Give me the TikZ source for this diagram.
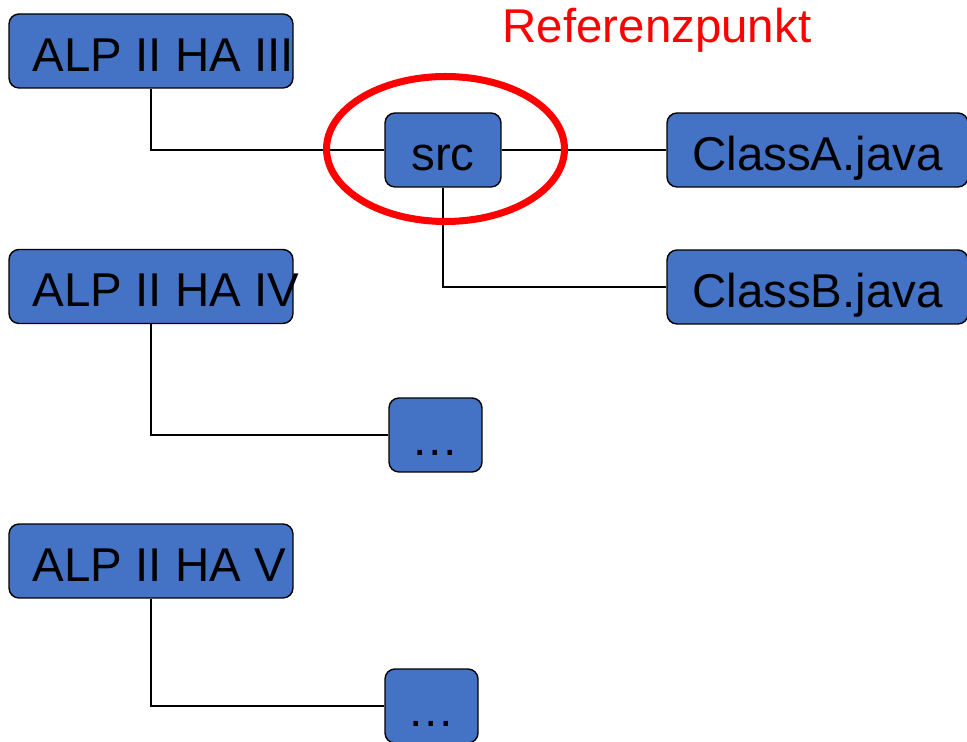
\documentclass[tikz,border=0pt]{standalone}
\usepackage{fontspec}
\setmainfont{Liberation Sans}
\definecolor{boxblue}{RGB}{68,114,196}
\definecolor{refred}{RGB}{255,0,0}

\begin{document}
\begin{tikzpicture}[x=0.02cm,y=-0.02cm]
	\tikzset{box/.style = {draw,line width=0.8pt,fill=boxblue,rounded corners=0.2cm,inner sep=0pt,text height=1.16cm,text depth=0.32cm,font=\fontsize{27}{31}\selectfont}}
	\tikzset{lbl/.style = {inner sep=0pt,font=\fontsize{27}{31}\selectfont}}
	\tikzset{link/.style = {draw,line width=0.8pt}}
	\useasboundingbox (0,0) rectangle (967,742);
	% folders
	\node[box,minimum width=5.68cm] (alp3) at (151,51) {};
	\node[box,minimum width=5.68cm] (alp4) at (151,286.5) {};
	\node[box,minimum width=5.68cm] (alp5) at (151,561) {};
	\node[lbl,anchor=base west] (alp3txt) at ([xshift=0.48cm,yshift=-1.16cm]alp3.north west) {ALP II HA III};
	\node[lbl,anchor=base west] (alp4txt) at ([xshift=0.48cm,yshift=-1.16cm]alp4.north west) {ALP II HA IV};
	\node[lbl,anchor=base west] (alp5txt) at ([xshift=0.48cm,yshift=-1.16cm]alp5.north west) {ALP II HA V};
	% contents
	\node[box,minimum width=2.32cm] (src) at (443,150) {src};
	\node[box,minimum width=6.02cm] (ca) at (817.5,150) {ClassA.java};
	\node[box,minimum width=6.02cm] (cb) at (817.5,287) {ClassB.java};
	\node[box,minimum width=1.86cm] (d1) at (435.5,435) {…};
	\node[box,minimum width=1.86cm] (d2) at (431.5,706) {…};
	\path[link] (alp3.south) |- (src.west);
	\path[link] (src.east) -- (ca.west);
	\path[link] (src.south) |- (cb.west);
	\path[link] (alp4.south) |- (d1.west);
	\path[link] (alp5.south) |- (d2.west);
	% reference point
	\draw[refred,line width=4pt] (445.5,149) ellipse [x radius=2.38cm,y radius=1.45cm];
	\node[lbl,text=refred,anchor=base] (ref) at (657,43) {Referenzpunkt};
\end{tikzpicture}
\end{document}
